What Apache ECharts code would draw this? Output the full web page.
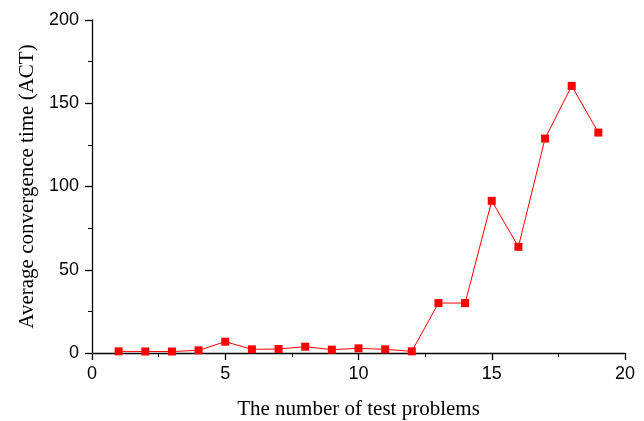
<!DOCTYPE html>
<html><head><meta charset="utf-8">
<script src="https://cdn.jsdelivr.net/npm/echarts@6/dist/echarts.min.js"></script>
<style>html,body{margin:0;padding:0;background:#fff}#c{width:644px;height:421px}</style>
</head><body><div id="c"></div>
<script>
const problems = [1,2,3,4,5,6,7,8,9,10,11,12,13,14,15,16,17,18,19];
const act = [1.0,0.9,0.9,1.6,6.8,2.2,2.4,3.8,2.0,2.8,2.2,1.0,30.0,30.0,91.4,63.8,128.8,160.4,132.4];
const xName = 'The number of test problems';
const yName = 'Average convergence time (ACT)';

const chart = echarts.init(document.getElementById('c'));
chart.setOption({
  animation:false,
  grid:{left:92,right:19,top:20,bottom:68,containLabel:false,outerBoundsMode:'none'},
  xAxis:{
    type:'value',min:0,max:20,interval:5,
    name:xName,nameLocation:'middle',nameGap:46,
    nameTextStyle:{fontFamily:'Liberation Serif',fontSize:21,color:'#000'},
    axisLine:{lineStyle:{color:'#000',width:1.3}},
    axisTick:{inside:false,length:7,lineStyle:{color:'#000',width:1.3}},
    minorTick:{show:true,splitNumber:2,length:4,lineStyle:{color:'#000',width:1}},
    axisLabel:{fontFamily:'Liberation Sans',fontSize:18,color:'#000',margin:12},
    splitLine:{show:false}
  },
  yAxis:{
    type:'value',min:0,max:200,interval:50,
    name:yName,nameLocation:'middle',nameGap:54,
    nameTextStyle:{fontFamily:'Liberation Serif',fontSize:21,color:'#000'},
    axisLine:{show:true,lineStyle:{color:'#000',width:1.3}},
    axisTick:{show:true,inside:false,length:7,lineStyle:{color:'#000',width:1.3}},
    minorTick:{show:true,splitNumber:2,length:4,lineStyle:{color:'#000',width:1}},
    axisLabel:{fontFamily:'Liberation Sans',fontSize:18,color:'#000',margin:13},
    splitLine:{show:false}
  },
  series:[{
    type:'line',
    data:problems.map((p,i)=>[p,act[i]]),
    symbol:'rect',symbolSize:8,
    itemStyle:{color:'#ff0000'},
    lineStyle:{color:'#ff0000',width:1}
  }]
});
</script></body></html>
